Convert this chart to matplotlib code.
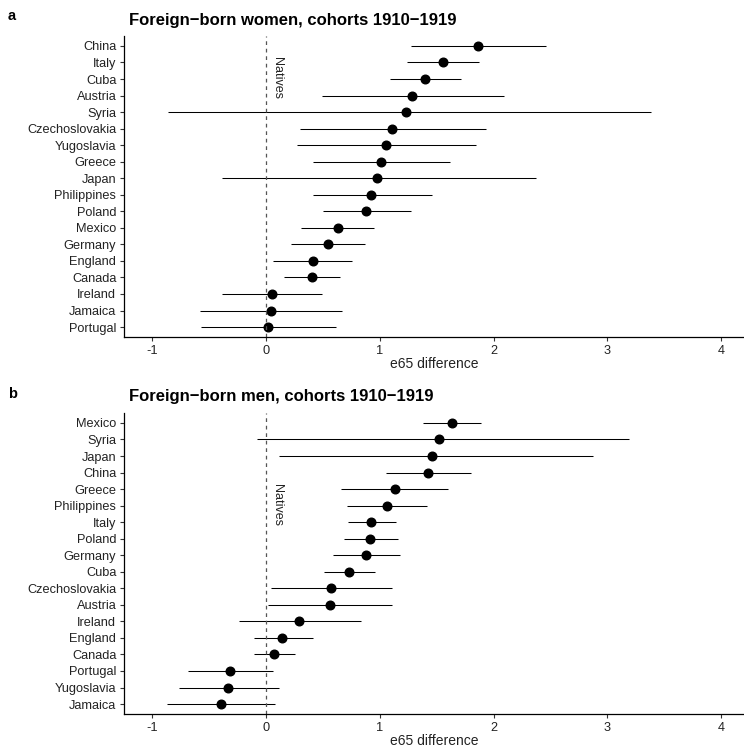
import numpy as np
import matplotlib
matplotlib.use("Agg")
import matplotlib.pyplot as plt

plt.rcParams['font.family'] = ['Liberation Sans', 'DejaVu Sans']

# panel a: foreign-born women (top to bottom)
women_country = ["China", "Italy", "Cuba", "Austria", "Syria", "Czechoslovakia",
                 "Yugoslavia", "Greece", "Japan", "Philippines", "Poland", "Mexico",
                 "Germany", "England", "Canada", "Ireland", "Jamaica", "Portugal"]
women_est = [1.86, 1.55, 1.40, 1.28, 1.23, 1.105, 1.05, 1.01, 0.97, 0.92, 0.88, 0.63,
             0.54, 0.41, 0.40, 0.047, 0.038, 0.018]
women_lo = [1.27, 1.24, 1.09, 0.49, -0.86, 0.30, 0.27, 0.41, -0.39, 0.41, 0.50, 0.31,
            0.22, 0.06, 0.16, -0.39, -0.58, -0.57]
women_hi = [2.46, 1.87, 1.71, 2.09, 3.38, 1.93, 1.84, 1.62, 2.37, 1.46, 1.27, 0.945,
            0.87, 0.75, 0.65, 0.49, 0.67, 0.61]

# panel b: foreign-born men (top to bottom)
men_country = ["Mexico", "Syria", "Japan", "China", "Greece", "Philippines", "Italy",
               "Poland", "Germany", "Cuba", "Czechoslovakia", "Austria", "Ireland",
               "England", "Canada", "Portugal", "Yugoslavia", "Jamaica"]
men_est = [1.63, 1.52, 1.46, 1.42, 1.13, 1.06, 0.925, 0.915, 0.88, 0.73, 0.57, 0.56,
           0.29, 0.14, 0.07, -0.32, -0.34, -0.40]
men_lo = [1.38, -0.08, 0.11, 1.05, 0.66, 0.71, 0.72, 0.68, 0.59, 0.51, 0.04, 0.02,
          -0.24, -0.11, -0.11, -0.69, -0.77, -0.87]
men_hi = [1.89, 3.19, 2.87, 1.80, 1.60, 1.41, 1.14, 1.16, 1.18, 0.96, 1.11, 1.11,
          0.83, 0.41, 0.25, 0.06, 0.11, 0.08]

W, H = 744, 748
fig = plt.figure(figsize=(W / 100, H / 100), dpi=100)


def panel(top_px, bottom_px, countries, est, lo, hi, natives_row):
    ax = fig.add_axes([124 / W, 1 - bottom_px / H, (744 - 124) / W, (bottom_px - top_px) / H])
    n = len(countries)
    y = np.arange(n)
    ax.hlines(y, lo, hi, color='black', linewidth=0.75)
    ax.plot(est, y, 'o', color='black', markersize=6.2)
    ax.axvline(0, color='#555555', linestyle=(0, (3, 3)), linewidth=0.9)
    ax.text(0.045, natives_row, "Natives", rotation=-90, ha='left', va='center',
            fontsize=9, color='#222222')
    ax.set_ylim(n - 1 + 0.6, -0.6)
    ax.set_xlim(-1.25, 4.2)
    ax.set_yticks(y)
    ax.set_yticklabels(countries)
    ax.set_xticks([-1, 0, 1, 2, 3, 4])
    ax.set_xticklabels(["-1", "0", "1", "2", "3", "4"])
    ax.tick_params(axis='both', labelsize=9.2, length=3, width=0.8,
                   color='#333333', labelcolor='#222222', pad=2.5)
    for s in ['top', 'right']:
        ax.spines[s].set_visible(False)
    for s in ['left', 'bottom']:
        ax.spines[s].set_linewidth(0.9)
    ax.set_xlabel("e65 difference", fontsize=10, color='#222222', labelpad=0.5)
    return ax


panel(36, 337, women_country, women_est, women_lo, women_hi, 1.94)
panel(413, 714, men_country, men_est, men_lo, men_hi, 4.98)

fig.text(129 / W, 1 - 20 / H, "Foreign\u2212born women, cohorts 1910\u22121919",
         fontsize=12, fontweight='bold', ha='left', va='center')
fig.text(129 / W, 1 - 397 / H, "Foreign\u2212born men, cohorts 1910\u22121919",
         fontsize=12, fontweight='bold', ha='left', va='center')
fig.text(8 / W, 1 - 16 / H, "a", fontsize=10.5, fontweight='bold', ha='left', va='center')
fig.text(8 / W, 1 - 394 / H, "b", fontsize=10.5, fontweight='bold', ha='left', va='center')

fig.savefig("out.png", dpi=100)
